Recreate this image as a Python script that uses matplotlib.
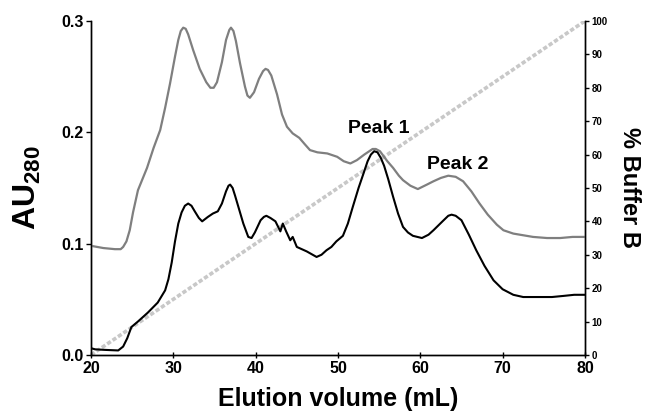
import matplotlib
matplotlib.use("Agg")
import matplotlib.pyplot as plt

plt.rcParams['font.family'] = ['Liberation Sans', 'DejaVu Sans']
plt.rcParams['font.weight'] = 'bold'
plt.rcParams['mathtext.fontset'] = 'custom'
plt.rcParams['mathtext.bf'] = 'Liberation Sans:bold'
plt.rcParams['mathtext.rm'] = 'Liberation Sans:bold'

# grey trace (upper chromatogram)
grey_ml = [20.0, 21.5, 22.9, 23.6, 23.9, 24.3, 24.7, 25.1, 25.7, 26.8, 27.6, 28.4, 29.0, 29.6,
           30.2, 30.6, 30.9, 31.2, 31.5, 31.8, 32.4, 33.2, 34.0, 34.5, 34.9, 35.3, 35.9, 36.4,
           36.8, 37.0, 37.3, 37.6, 38.1, 38.7, 39.0, 39.3, 39.8, 40.4, 40.9, 41.2, 41.5, 41.9,
           42.6, 43.2, 43.8, 44.5, 45.3, 46.0, 46.6, 47.5, 48.7, 49.9, 50.7, 51.5, 52.3, 53.2,
           53.8, 54.2, 54.6, 55.1, 56.0, 56.7, 57.4, 57.9, 58.8, 59.7, 60.8, 61.6, 62.5, 63.4,
           64.3, 65.2, 66.2, 67.2, 68.2, 69.3, 70.1, 71.3, 73.7, 75.4, 77.0, 78.5, 80.0]
grey_au = [0.098, 0.096, 0.095, 0.095, 0.097, 0.102, 0.112, 0.128, 0.148, 0.168, 0.186, 0.202, 0.222, 0.244,
           0.268, 0.283, 0.291, 0.294, 0.293, 0.288, 0.274, 0.257, 0.245, 0.240, 0.240, 0.245, 0.263, 0.283,
           0.292, 0.294, 0.291, 0.282, 0.262, 0.241, 0.233, 0.231, 0.236, 0.248, 0.255, 0.257, 0.256, 0.251,
           0.234, 0.216, 0.205, 0.199, 0.195, 0.189, 0.184, 0.182, 0.181, 0.178, 0.174, 0.172, 0.175, 0.180,
           0.183, 0.185, 0.185, 0.183, 0.174, 0.168, 0.161, 0.157, 0.152, 0.149, 0.153, 0.156, 0.159, 0.161,
           0.160, 0.156, 0.147, 0.136, 0.126, 0.117, 0.112, 0.109, 0.106, 0.105, 0.105, 0.106, 0.106]

# black trace (lower chromatogram)
black_ml = [20.0, 20.5, 21.7, 23.3, 23.9, 24.4, 24.9, 25.7, 26.9, 28.1, 29.0, 29.4,
            29.8, 30.2, 30.6, 31.0, 31.4, 31.8, 32.2, 32.6, 33.1, 33.5, 34.2, 34.8, 35.4,
            35.9, 36.4, 36.7, 36.9, 37.2, 37.5, 37.9, 38.5, 39.1, 39.5, 39.9, 40.6, 41.0, 41.3, 41.8,
            42.4, 43.0, 43.3, 43.7, 44.2, 44.5, 45.0, 45.6, 46.2, 47.4, 48.0, 48.6,
            49.2, 49.8, 50.6, 51.2, 51.8, 52.5, 53.1, 53.6, 54.0, 54.4, 54.8, 55.2, 55.6, 56.1,
            56.7, 57.3, 57.9, 58.5, 59.1, 60.2, 61.0, 61.6, 62.7, 63.4, 63.8, 64.3, 65.0,
            65.9, 66.8, 67.8, 68.9, 70.0, 71.3, 72.5, 74.5, 76.0, 77.4, 78.7, 80.0]
black_au = [0.006, 0.005, 0.0045, 0.004, 0.0075, 0.015, 0.025, 0.030, 0.038, 0.047, 0.058, 0.068,
            0.083, 0.102, 0.118, 0.128, 0.134, 0.136, 0.134, 0.129, 0.123, 0.120, 0.124, 0.127, 0.129,
            0.136, 0.147, 0.152, 0.153, 0.150, 0.143, 0.133, 0.118, 0.106, 0.105, 0.110, 0.121, 0.124, 0.125, 0.123,
            0.120, 0.111, 0.118, 0.111, 0.103, 0.106, 0.097, 0.095, 0.093, 0.088, 0.090, 0.094,
            0.097, 0.102, 0.107, 0.118, 0.133, 0.150, 0.163, 0.174, 0.180, 0.183, 0.182, 0.177, 0.170, 0.158,
            0.142, 0.127, 0.115, 0.110, 0.107, 0.105, 0.108, 0.112, 0.120, 0.125, 0.126, 0.125, 0.121,
            0.108, 0.094, 0.080, 0.067, 0.059, 0.054, 0.052, 0.052, 0.052, 0.053, 0.054, 0.054]

# gradient
buffer_ml = [20, 80]
buffer_pct = [0, 100]

peak_labels = ["Peak 1", "Peak 2"]
peak_pos = [(54.9, 0.203), (64.5, 0.171)]

x_ticks = [20, 30, 40, 50, 60, 70, 80]
y_ticks = [0.0, 0.1, 0.2, 0.3]
y2_ticks = list(range(0, 101, 10))

fig = plt.figure(figsize=(6.55, 4.2), dpi=100)
ax = fig.add_axes([0.139, 0.155, 0.754, 0.795])
ax2 = ax.twinx()

ax2.plot(buffer_ml, buffer_pct, color='#c8c8c8', lw=2.6, linestyle=(0, (1.2, 0.6)))
ax.plot(grey_ml, grey_au, color='#7f7f7f', lw=1.6)
ax.plot(black_ml, black_au, color='black', lw=1.5)
ax.set_zorder(ax2.get_zorder() + 1)
ax.patch.set_visible(False)

for txt, (px, py) in zip(peak_labels, peak_pos):
    ax.text(px, py, txt, ha='center', va='center', fontsize=14, fontweight='bold')

ax.set_xlim(20, 80)
ax.set_ylim(0, 0.3)
ax2.set_ylim(0, 100)
ax.set_xticks(x_ticks)
ax.set_yticks(y_ticks)
ax.set_yticklabels([f"{v:.1f}" for v in y_ticks])
ax2.set_yticks(y2_ticks)

for a in (ax, ax2):
    a.spines['top'].set_visible(False)
    for s in a.spines.values():
        s.set_linewidth(1.0)

ax.tick_params(axis='x', direction='inout', length=5, width=1.0, labelsize=11.5, pad=2)
ax.tick_params(axis='y', direction='out', length=3.5, width=1.0, labelsize=11.5, pad=2)
ax2.tick_params(axis='y', direction='out', length=3, width=1.0, labelsize=7, pad=2)
for lab in ax.get_xticklabels() + ax.get_yticklabels() + ax2.get_yticklabels():
    lab.set_fontweight('bold')

ax.set_xlabel("Elution volume (mL)", fontsize=18, fontweight='bold', labelpad=8)
ax.set_ylabel(r"$\mathbf{AU}_{\mathbf{280}}$", fontsize=23, labelpad=13)
ax2.set_ylabel("% Buffer B", fontsize=17, fontweight='bold', rotation=270, labelpad=24)

fig.savefig("out.png", dpi=100)
